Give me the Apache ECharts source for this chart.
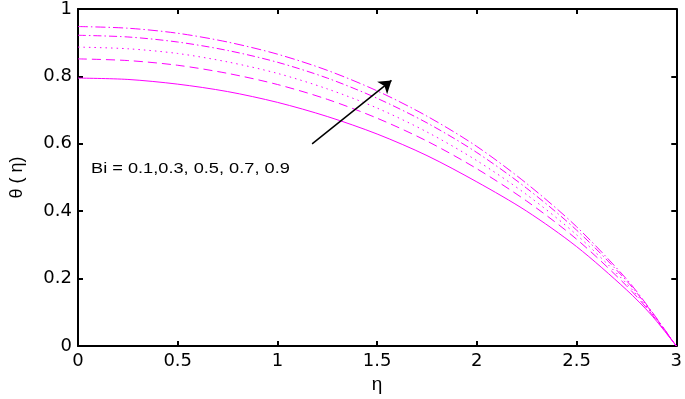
<!DOCTYPE html>
<html>
<head>
<meta charset="utf-8">
<script src="https://cdn.jsdelivr.net/npm/echarts@6/dist/echarts.min.js"></script>
<style>
  html, body { margin: 0; padding: 0; background: #fff; }
  #chart { width: 685px; height: 399px; }
</style>
</head>
<body>
<div id="chart"></div>
<script>
// eta positions the curves were read at
var eta = [0, 0.25, 0.5, 0.75, 1.0, 1.25, 1.5, 1.75, 2.0, 2.25, 2.5, 2.75, 2.875, 3];

// theta(eta) for Bi = 0.1, 0.3, 0.5, 0.7, 0.9
var bi01 = [0.795, 0.791, 0.777, 0.755, 0.723, 0.681, 0.629, 0.565, 0.487, 0.400, 0.295, 0.167, 0.092, 0];
var bi03 = [0.852, 0.847, 0.833, 0.809, 0.776, 0.732, 0.676, 0.608, 0.526, 0.430, 0.317, 0.179, 0.096, 0];
var bi05 = [0.887, 0.882, 0.868, 0.843, 0.809, 0.763, 0.706, 0.635, 0.550, 0.449, 0.330, 0.186, 0.099, 0];
var bi07 = [0.922, 0.917, 0.902, 0.877, 0.842, 0.795, 0.735, 0.662, 0.574, 0.468, 0.344, 0.194, 0.102, 0];
var bi09 = [0.948, 0.943, 0.928, 0.902, 0.866, 0.818, 0.757, 0.682, 0.592, 0.482, 0.354, 0.199, 0.104, 0];

// arrow (data coords)
var arrowFrom = [1.174, 0.6];
var arrowTo = [1.572, 0.788];

var xTicks = [0, 0.5, 1, 1.5, 2, 2.5, 3];
var yTicks = [0, 0.2, 0.4, 0.6, 0.8, 1];

function pairs(ys) {
  return eta.map(function (x, i) { return [x, ys[i]]; });
}

var magenta = '#ff00ff';
var font = 'Liberation Sans, Arial, sans-serif';
var tickFont = 'DejaVu Sans, sans-serif';

function curve(name, ys, dash) {
  return {
    name: name,
    type: 'line',
    data: pairs(ys),
    smooth: 0.3,
    showSymbol: false,
    symbol: 'none',
    lineStyle: { color: magenta, width: 1, type: dash },
    z: 3
  };
}

var chart = echarts.init(document.getElementById('chart'));
var axisLine = { show: true, onZero: false, lineStyle: { color: '#000', width: 2 } };
var tick = { show: true, inside: true, length: 5, lineStyle: { color: '#000', width: 2 } };

chart.setOption({
  animation: false,
  backgroundColor: '#fff',
  grid: { left: 74, right: 8, top: 7, bottom: 47 },
  xAxis: [{
    type: 'value', min: 0, max: 3, interval: 0.5,
    name: 'η', nameLocation: 'middle', nameGap: 29,
    nameTextStyle: { color: '#000', fontSize: 19, fontFamily: font },
    axisLine: axisLine, axisTick: tick, splitLine: { show: false },
    axisLabel: { color: '#000', fontSize: 18, fontFamily: tickFont, margin: 6,
      formatter: function (v) { return xTicks.indexOf(v) >= 0 ? String(v) : ''; } }
  }, {
    type: 'value', min: 0, max: 3, interval: 0.5, position: 'top',
    axisLine: axisLine, axisTick: tick, axisLabel: { show: false }, splitLine: { show: false }
  }],
  yAxis: [{
    type: 'value', min: 0, max: 1, interval: 0.2,
    name: 'θ ( η)', nameLocation: 'middle', nameGap: 52, nameRotate: 90,
    nameTextStyle: { color: '#000', fontSize: 18, fontFamily: font },
    axisLine: axisLine, axisTick: tick, splitLine: { show: false },
    axisLabel: { color: '#000', fontSize: 18, fontFamily: tickFont, margin: 6,
      formatter: function (v) {
        var r = Math.round(v * 10) / 10;
        return yTicks.indexOf(r) >= 0 ? String(r) : '';
      } }
  }, {
    type: 'value', min: 0, max: 1, interval: 0.2, position: 'right',
    axisLine: axisLine, axisTick: tick, axisLabel: { show: false }, splitLine: { show: false }
  }],
  series: [
    curve('Bi=0.1', bi01, 'solid'),
    curve('Bi=0.3', bi03, [9, 5]),
    curve('Bi=0.5', bi05, [1.5, 4]),
    curve('Bi=0.7', bi07, [8, 3, 1.5, 3]),
    curve('Bi=0.9', bi09, [10, 3, 1.5, 3]),
    {
      type: 'line', data: [], silent: true,
      markLine: {
        silent: true, animation: false,
        symbol: ['none', 'arrow'], symbolSize: 12,
        label: { show: false },
        lineStyle: { color: '#000', width: 1.5, type: 'solid' },
        data: [[{ coord: arrowFrom }, { coord: arrowTo }]]
      }
    }
  ],
  graphic: [{
    type: 'text', x: 91, y: 162, scaleX: 1.3,
    style: { text: 'Bi = 0.1,0.3, 0.5, 0.7, 0.9', fill: '#000', fontSize: 14, fontFamily: font }
  }]
});
</script>
</body>
</html>
